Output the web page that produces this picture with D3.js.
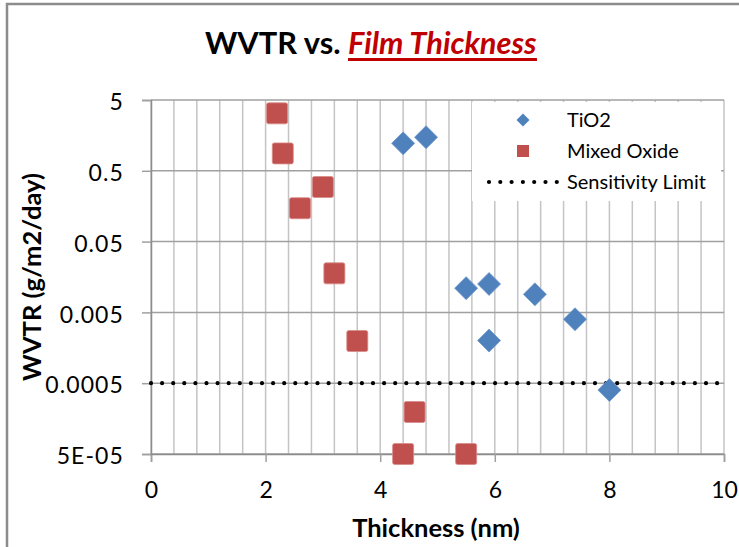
<!DOCTYPE html>
<html>
<head>
<meta charset="utf-8">
<script src="https://cdn.jsdelivr.net/npm/d3@7"></script>
<style>
  body { margin: 0; background: #fff; }
  svg text { font-family: Lato, "Open Sans", sans-serif; }
</style>
</head>
<body>
<svg id="chart" width="739" height="547"></svg>
<script>
// values
const tio2X = [4.4, 4.8, 5.5, 5.9, 5.9, 6.7, 7.4, 8.0];
const tio2Y = [1.22, 1.49, 0.011, 0.0126, 0.002, 0.009, 0.004, 0.0004];
const mixedX = [2.2, 2.3, 2.6, 3.0, 3.2, 3.6, 4.4, 4.6, 5.5];
const mixedY = [3.24, 0.88, 0.148, 0.295, 0.0178, 0.00197, 0.00005, 0.000196, 0.00005];
const sensitivityLimit = 0.0005;
const yTicks = [5, 0.5, 0.05, 0.005, 0.0005, 0.00005];
const yTickLabels = ['5', '0.5', '0.05', '0.005', '0.0005', '5E-05'];
const xTicks = [0, 2, 4, 6, 8, 10];
const legendNames = ['TiO2', 'Mixed Oxide', 'Sensitivity Limit'];

const blue = '#4f81bd', red = '#c0504d';
const margin = {top: 100, right: 15, bottom: 93, left: 151};
const width = 739 - margin.left - margin.right;
const height = 547 - margin.top - margin.bottom;

const svg = d3.select('#chart');

// outer chart frame
svg.append('rect')
    .attr('x', 7).attr('y', 4)
    .attr('width', 760).attr('height', 600)
    .attr('fill', 'none')
    .attr('stroke', '#8c8c8c')
    .attr('stroke-width', 2.5);

// title
const title = svg.append('text')
    .attr('x', 205).attr('y', 54)
    .style('font-size', '30.8px')
    .style('font-weight', 'bold');
title.append('tspan').text('WVTR vs. ');
const titleRed = title.append('tspan')
    .attr('fill', '#c00000')
    .style('font-style', 'italic')
    .text('Film Thickness');
const rb = titleRed.node().getBBox();
svg.append('line')
    .attr('x1', rb.x).attr('x2', rb.x + rb.width)
    .attr('y1', 59.5).attr('y2', 59.5)
    .attr('stroke', '#c00000')
    .attr('stroke-width', 3);

const x = d3.scaleLinear().domain([0, 10]).range([0, width]);
const y = d3.scaleLog().domain([0.00005, 5]).range([height, 0]);

const g = svg.append('g')
    .attr('transform', 'translate(' + margin.left + ',' + margin.top + ')');

// vertical gridlines every 0.4
g.append('g').selectAll('line')
    .data(d3.range(0, 26).map(i => i * 0.4))
  .join('line')
    .attr('x1', d => x(d)).attr('x2', d => x(d))
    .attr('y1', 0).attr('y2', height)
    .attr('stroke', '#c4c4c4')
    .attr('stroke-width', 1.5);

// horizontal gridlines at decades
g.append('g').selectAll('line')
    .data(yTicks)
  .join('line')
    .attr('x1', 0).attr('x2', width)
    .attr('y1', d => y(d)).attr('y2', d => y(d))
    .attr('stroke', '#a0a0a0')
    .attr('stroke-width', 1.5);

// axes
const xAxis = g.append('g')
    .attr('transform', 'translate(0,' + height + ')')
    .call(d3.axisBottom(x).tickValues(xTicks).tickSize(8).tickPadding(20).tickFormat(d3.format('d')));
const yAxis = g.append('g')
    .call(d3.axisLeft(y).tickValues(yTicks).tickSize(9).tickPadding(18)
      .tickFormat((d, i) => yTickLabels[i]));

[xAxis, yAxis].forEach(a => {
  a.select('.domain').attr('stroke', '#8c8c8c').attr('stroke-width', 1.5);
  a.selectAll('.tick line').attr('stroke', '#a0a0a0').attr('stroke-width', 1.5);
  a.selectAll('.tick text')
      .attr('fill', '#000')
      .style('font-family', 'Lato, sans-serif')
      .style('font-size', '23px');
});
yAxis.selectAll('.tick text').attr('dy', '0.42em').style('letter-spacing', '1.1px');

// legend background
g.append('rect')
    .attr('x', 321).attr('y', 2)
    .attr('width', 249).attr('height', 99)
    .attr('fill', '#fff');

// sensitivity limit
g.append('line')
    .attr('x1', 0).attr('x2', width + 3)
    .attr('y1', y(sensitivityLimit)).attr('y2', y(sensitivityLimit))
    .attr('stroke', '#000')
    .attr('stroke-width', 4.2)
    .attr('stroke-linecap', 'round')
    .attr('stroke-dasharray', '0 11.1');

// mixed oxide squares
const sq = 21;
g.append('g').selectAll('rect')
    .data(d3.zip(mixedX, mixedY))
  .join('rect')
    .attr('x', d => x(d[0]) - sq / 2)
    .attr('y', d => y(d[1]) - sq / 2)
    .attr('width', sq).attr('height', sq)
    .attr('rx', 2)
    .attr('fill', red)
    .attr('stroke', '#d88a88')
    .attr('stroke-width', 0.8);

// TiO2 diamonds
const diamond = r => 'M0,' + (-r) + 'L' + r + ',0L0,' + r + 'L' + (-r) + ',0Z';
g.append('g').selectAll('path')
    .data(d3.zip(tio2X, tio2Y))
  .join('path')
    .attr('transform', d => 'translate(' + x(d[0]) + ',' + y(d[1]) + ')')
    .attr('d', diamond(11.5))
    .attr('fill', blue)
    .attr('stroke', '#6f98cc')
    .attr('stroke-width', 0.8)
    .attr('stroke-linejoin', 'round');

// legend
const legend = svg.append('g');
const rowY = [120, 151, 182];
legend.append('path')
    .attr('transform', 'translate(523,' + rowY[0] + ')')
    .attr('d', diamond(6.5))
    .attr('fill', blue);
legend.append('rect')
    .attr('x', 517).attr('y', rowY[1] - 6)
    .attr('width', 12).attr('height', 12)
    .attr('fill', red);
legend.append('line')
    .attr('x1', 489).attr('x2', 558)
    .attr('y1', rowY[2]).attr('y2', rowY[2])
    .attr('stroke', '#000')
    .attr('stroke-width', 4.2)
    .attr('stroke-linecap', 'round')
    .attr('stroke-dasharray', '0 11.3');
legend.selectAll('text.lg')
    .data(legendNames)
  .join('text')
    .attr('class', 'lg')
    .attr('x', 567)
    .attr('y', (d, i) => rowY[i])
    .attr('dy', '0.36em')
    .style('font-size', '20px')
    .text(d => d);

// axis titles
svg.append('text')
    .attr('x', 436).attr('y', 537)
    .attr('text-anchor', 'middle')
    .style('font-size', '25.5px')
    .style('font-weight', 'bold')
    .text('Thickness (nm)');
svg.append('text')
    .attr('transform', 'translate(41,277) rotate(-90)')
    .attr('text-anchor', 'middle')
    .style('font-size', '25.5px')
    .style('font-weight', 'bold')
    .text('WVTR (g/m2/day)');
</script>
</body>
</html>
